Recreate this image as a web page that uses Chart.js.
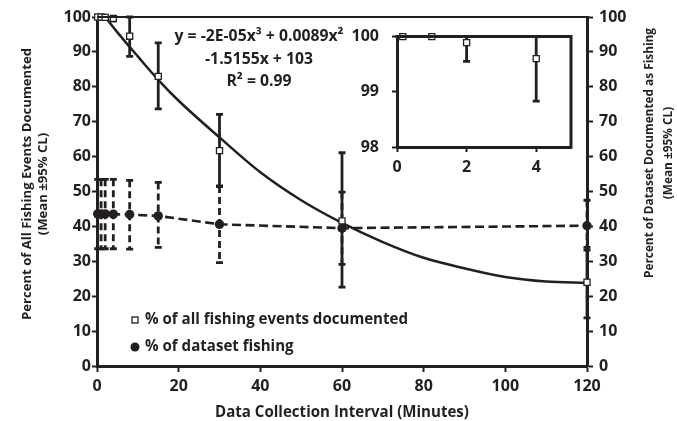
<!DOCTYPE html>
<html><head><meta charset="utf-8">
<script src="https://cdn.jsdelivr.net/npm/chart.js@4/dist/chart.umd.min.js"></script>
<style>
html,body{margin:0;padding:0;background:#fff;}
#wrap{position:relative;width:677px;height:421px;overflow:hidden;}
#main{position:absolute;left:0;top:0;}
#inset{position:absolute;left:340px;top:14px;}
</style></head><body>
<div id="wrap">
<canvas id="main" width="677" height="421"></canvas>
<canvas id="inset" width="245" height="170"></canvas>
</div>
<script>
// ---------- data ----------
const intervals        = [0.167, 1, 2, 4, 8, 15, 30, 60, 120];
const eventsDocumented = [100, 100, 99.89, 99.6, 94.5, 83.0, 61.7, 41.6, 24.0];
const eventsLow        = [100, 100, 99.55, 98.83, 88.7, 73.7, 51.4, 22.6, 13.8];
const eventsHigh       = [100, 100, 100, 100, 100, 92.6, 72.1, 61.1, 34.0];
const datasetFishing   = [43.6, 43.6, 43.6, 43.5, 43.4, 43.0, 40.6, 39.5, 40.2];
const fishingLow       = [33.6, 33.6, 33.6, 33.6, 33.5, 34.0, 29.6, 29.1, 33.2];
const fishingHigh      = [53.5, 53.5, 53.5, 53.5, 53.2, 52.6, 51.6, 49.8, 47.5];
const trendX           = [0, 5, 10, 15, 20, 30, 40, 50, 60, 70, 80, 90, 100, 110, 120];
const trendY           = [103, 95.6, 88.7, 82.0, 76.0, 65.5, 55.5, 47.5, 41.0, 35.5, 31.0, 28.0, 25.5, 24.2, 23.8];
const xTicks           = [0, 20, 40, 60, 80, 100, 120];
const yTicks           = [0, 10, 20, 30, 40, 50, 60, 70, 80, 90, 100];
const insetXTicks      = [0, 2, 4];
const insetYTicks      = [98, 99, 100];
const seriesNames      = ['% of all fishing events documented', '% of dataset fishing'];
const equationLines    = ['y = -2E-05x\u00b3 + 0.0089x\u00b2', '-1.5155x + 103', 'R\u00b2 = 0.99'];
const xTitle           = 'Data Collection Interval (Minutes)';
const yTitle           = ['Percent of All Fishing Events Documented', '(Mean \u00b195% CL)'];
const y2Title          = ['Percent of Dataset Documented as Fishing', '(Mean \u00b195% CL)'];

// ---------- styles ----------
const INK = '#231f20';
const FAM = '"Open Sans"';
const tickFont = {family: 'Open Sans', size: 16, weight: 'bold'};
const pts = (xs, ys) => xs.map((x, i) => ({x, y: ys[i]}));
const setTicks = arr => (s => { s.ticks = arr.map(v => ({value: v})); });

// pick a bold font size so that a text spans the width seen in the reference
function fitFont(ctx, text, width) {
  ctx.font = 'bold 20px ' + FAM;
  const w = ctx.measureText(text).width;
  return 'bold ' + (20 * width / w).toFixed(2) + 'px ' + FAM;
}

const errorBarPlugin = {
  id: 'errorBars',
  beforeDatasetsDraw(chart, args, opts) {
    const ctx = chart.ctx, xs = chart.scales.x, ys = chart.scales.y;
    (opts.bars || []).forEach(b => {
      ctx.save();
      ctx.strokeStyle = INK; ctx.lineWidth = b.width; ctx.lineCap = 'butt';
      b.x.forEach((xv, i) => {
        if (xv < xs.min || xv > xs.max) return;
        const lo = Math.max(b.low[i], ys.min), hi = Math.min(b.high[i], ys.max);
        if (hi - lo <= 0.001) return;
        const px = xs.getPixelForValue(xv);
        const pl = ys.getPixelForValue(lo), ph = ys.getPixelForValue(hi);
        ctx.setLineDash(b.dash || []);
        ctx.beginPath(); ctx.moveTo(px, ph); ctx.lineTo(px, pl); ctx.stroke();
        ctx.setLineDash([]);
        ctx.beginPath();
        ctx.moveTo(px - b.cap, pl); ctx.lineTo(px + b.cap, pl);
        if (b.high[i] <= ys.max) { ctx.moveTo(px - b.cap, ph); ctx.lineTo(px + b.cap, ph); }
        ctx.stroke();
      });
      ctx.restore();
    });
  }
};

const mainDecor = {
  id: 'mainDecor',
  afterDraw(chart) {
    const ctx = chart.ctx, a = chart.chartArea;
    ctx.save();
    ctx.strokeStyle = INK; ctx.lineWidth = 2;
    ctx.beginPath(); ctx.moveTo(a.left, a.top); ctx.lineTo(a.right, a.top); ctx.stroke();
    ctx.fillStyle = INK;
    ctx.textBaseline = 'middle';
    // equation
    ctx.font = fitFont(ctx, equationLines[0], 169); ctx.textAlign = 'center';
    equationLines.forEach((t, i) => ctx.fillText(t, 259, 37 + i * 22.5));
    // legend
    ctx.font = fitFont(ctx, seriesNames[0], 263);
    ctx.textAlign = 'left';
    ctx.fillText(seriesNames[0], 145, 320);
    ctx.fillText(seriesNames[1], 145, 347);
    ctx.lineWidth = 1.3; ctx.fillStyle = '#fff';
    ctx.fillRect(132, 317, 6, 6); ctx.strokeRect(132, 317, 6, 6);
    ctx.fillStyle = INK;
    ctx.beginPath(); ctx.arc(135, 347, 4.5, 0, Math.PI * 2); ctx.fill();
    // axis titles
    ctx.textAlign = 'center';
    ctx.font = fitFont(ctx, xTitle, 254);
    ctx.fillText(xTitle, (a.left + a.right) / 2, 413);
    ctx.font = fitFont(ctx, yTitle[0], 272);
    ctx.save(); ctx.translate(27, 184); ctx.rotate(-Math.PI / 2);
    ctx.fillText(yTitle[0], 0, 0); ctx.fillText(yTitle[1], 0, 16); ctx.restore();
    ctx.font = fitFont(ctx, y2Title[0], 250);
    ctx.save(); ctx.translate(650, 153); ctx.rotate(-Math.PI / 2);
    ctx.fillText(y2Title[0], 0, 0); ctx.fillText(y2Title[1], 0, 19); ctx.restore();
    ctx.restore();
  }
};

const squareStyle = {pointStyle: 'rect', pointRadius: 4.3, pointBorderWidth: 1.3,
  pointBorderColor: INK, pointBackgroundColor: '#fff', showLine: false};

new Chart(document.getElementById('main'), {
  type: 'scatter',
  data: {datasets: [
    Object.assign({label: seriesNames[0], data: pts(intervals, eventsDocumented), order: 0, clip: false}, squareStyle),
    {label: seriesNames[1], data: pts(intervals, datasetFishing), order: 1, clip: false,
     showLine: true, borderColor: INK, borderWidth: 2.6, borderDash: [9, 4.5],
     pointStyle: 'circle', pointRadius: 4.7, pointBackgroundColor: INK, pointBorderColor: INK, pointBorderWidth: 0},
    {label: 'trend', data: pts(trendX, trendY), order: 2, clip: 0, showLine: true,
     borderColor: INK, borderWidth: 2.5, pointRadius: 0, cubicInterpolationMode: 'monotone'}
  ]},
  options: {
    responsive: false, animation: false, devicePixelRatio: 1,
    layout: {padding: {top: 17, left: 0, right: 0, bottom: 0}},
    plugins: {legend: {display: false}, tooltip: {enabled: false},
      errorBars: {bars: [
        {x: intervals, low: eventsLow, high: eventsHigh, width: 2.8, cap: 3.5},
        {x: intervals, low: fishingLow, high: fishingHigh, width: 2.8, cap: 3.5, dash: [7, 4]}
      ]}},
    scales: {
      x: {type: 'linear', min: 0, max: 120, afterBuildTicks: setTicks(xTicks),
        afterFit: s => { s.height = 55; },
        border: {color: INK, width: 3},
        grid: {drawOnChartArea: false, drawTicks: true, tickLength: 6, tickWidth: 2, tickColor: INK},
        ticks: {color: INK, font: tickFont, padding: 5, maxRotation: 0}},
      y: {position: 'left', min: 0, max: 100, afterBuildTicks: setTicks(yTicks),
        afterFit: s => { s.width = 97; },
        border: {color: INK, width: 3},
        grid: {drawOnChartArea: false, drawTicks: true, tickLength: 5, tickWidth: 2, tickColor: INK},
        ticks: {color: INK, font: tickFont, padding: 1}},
      y2: {position: 'right', min: 0, max: 100, afterBuildTicks: setTicks(yTicks),
        afterFit: s => { s.width = 90; },
        border: {color: INK, width: 3},
        grid: {drawOnChartArea: false, drawTicks: true, tickLength: 6, tickWidth: 2, tickColor: INK},
        ticks: {color: INK, font: tickFont, padding: 6}}
    }
  },
  plugins: [errorBarPlugin, mainDecor]
});

const insetFrame = {
  id: 'insetFrame',
  afterDraw(chart) {
    const ctx = chart.ctx, a = chart.chartArea;
    ctx.save(); ctx.strokeStyle = INK; ctx.lineWidth = 3;
    ctx.beginPath(); ctx.moveTo(a.left - 1.5, a.top); ctx.lineTo(a.right, a.top); ctx.lineTo(a.right, a.bottom + 1.5); ctx.stroke();
    ctx.restore();
  }
};

new Chart(document.getElementById('inset'), {
  type: 'scatter',
  data: {datasets: [
    Object.assign({label: seriesNames[0], data: pts(intervals, eventsDocumented),
      clip: {left: 8, top: 8, right: 0, bottom: 0}}, squareStyle)
  ]},
  options: {
    responsive: false, animation: false, devicePixelRatio: 1,
    layout: {padding: {top: 15, left: 0, right: 14, bottom: 0}},
    plugins: {legend: {display: false}, tooltip: {enabled: false},
      errorBars: {bars: [{x: intervals, low: eventsLow, high: eventsHigh, width: 2.8, cap: 3.5}]}},
    scales: {
      x: {type: 'linear', min: 0, max: 5, afterBuildTicks: setTicks(insetXTicks),
        afterFit: s => { s.height = 37; },
        border: {color: INK, width: 3},
        grid: {drawOnChartArea: false, drawTicks: true, tickLength: 5, tickWidth: 2, tickColor: INK},
        ticks: {color: INK, font: tickFont, padding: 6, maxRotation: 0}},
      y: {position: 'left', min: 98, max: 100, afterBuildTicks: setTicks(insetYTicks),
        afterFit: s => { s.width = 57; },
        border: {color: INK, width: 3},
        grid: {drawOnChartArea: false, drawTicks: true, tickLength: 5, tickWidth: 2, tickColor: INK},
        ticks: {color: INK, font: tickFont, padding: 13}}
    }
  },
  plugins: [errorBarPlugin, insetFrame]
});
</script>
</body></html>
